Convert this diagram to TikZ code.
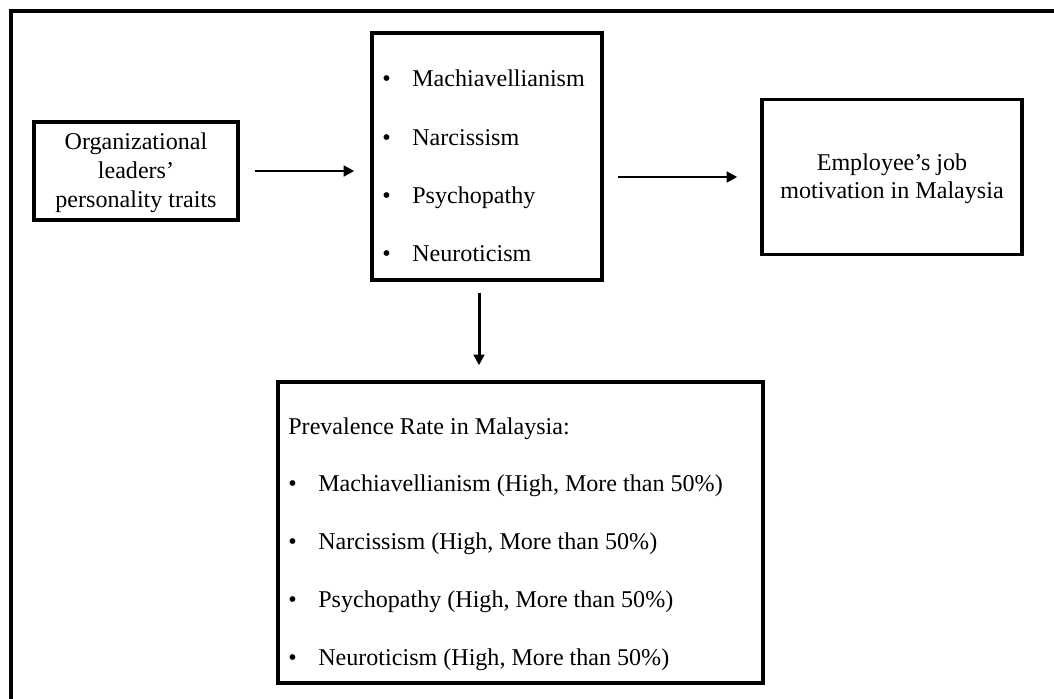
\documentclass[tikz,border=0pt]{standalone}
\usepackage{fontspec}
\setmainfont{Liberation Serif}
\usetikzlibrary{arrows.meta,positioning}
\newcommand{\bul}{\makebox[0.6cm][l]{\textbullet}}

\begin{document}
\begin{tikzpicture}[x=0.02cm,y=-0.02cm,every node/.style={font=\fontsize{13.7}{16.4}\selectfont},
  box/.style={draw,line width=2pt,inner sep=0pt,align=center},
  arr/.style={line width=1.7pt,-{Triangle[length=6pt,width=6pt]}},
  item/.style={anchor=base west,inner sep=0pt}]
\useasboundingbox (0,0) rectangle (1054,699);
% outer frame
\draw[line width=2pt] (1054,11) -- (11,11) -- (11,699);
% boxes
\node[box,minimum width=4.08cm,minimum height=1.96cm] (lead) at (136,171) {\strut Organizational\\leaders’\\personality traits};
\node[box,minimum width=4.6cm,minimum height=4.94cm] (dark) at (487,156.5) {};
\node[box,minimum width=5.2cm,minimum height=3.1cm] (moti) at (892,177) {\strut Employee’s job\\motivation in Malaysia};
\node[box,minimum width=9.7cm,minimum height=6.02cm] (prev) at (520.5,532.5) {};
% traits
\foreach \t [count=\i from 0] in {Machiavellianism,Narcissism,Psychopathy,Neuroticism}
  \node[item] (d\i) at (382,87+58.3*\i) {\bul\t};
\node[item] (head) at (288,434) {Prevalence Rate in Malaysia:};
\foreach \t [count=\i from 1] in {{Machiavellianism (High, More than 50\%)},{Narcissism (High, More than 50\%)},{Psychopathy (High, More than 50\%)},{Neuroticism (High, More than 50\%)}}
  \node[item] (p\i) at (288,434+57.8*\i) {\bul\t};
% arrows
\draw[arr,shorten <=0.3cm,shorten >=0.32cm] (lead.east) -- (lead.east -| dark.west);
\draw[arr,shorten <=0.28cm,shorten >=0.46cm] (moti.west -| dark.east) -- (moti.west);
\draw[arr,shorten <=0.22cm,shorten >=0.3cm] ([xshift=-0.16cm]dark.south) -- ([xshift=-0.16cm]dark.south |- prev.north);
\end{tikzpicture}
\end{document}
